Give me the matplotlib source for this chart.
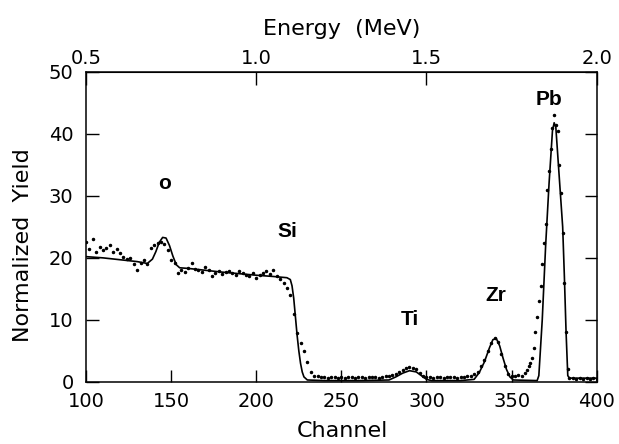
import matplotlib
matplotlib.use("Agg")
import matplotlib.pyplot as plt

# simulated spectrum (solid line)
sim_ch = [100, 110, 120, 130, 136, 139, 141, 143, 145, 147, 149, 151, 153, 155,
          160, 180, 200, 210, 218, 220, 221, 222, 223, 224, 225, 226, 227, 228,
          230, 240, 260, 278, 282, 286, 290, 294, 297, 300, 303, 320, 328, 331,
          334, 337, 339, 341, 343, 345, 347, 349, 351, 365, 366, 368, 370, 372,
          374, 375, 376, 378, 380, 381, 382, 383, 384, 400]
sim_y = [20.2, 20.0, 19.7, 19.4, 19.1, 19.8, 21.0, 22.5, 23.3, 23.2, 22.0, 20.3, 18.9, 18.4,
         18.3, 17.7, 17.2, 17.0, 16.8, 16.5, 15.5, 13.5, 10.5, 7.5, 5.0, 3.0, 1.6, 0.8,
         0.3, 0.2, 0.2, 0.3, 0.8, 1.4, 1.8, 1.6, 1.0, 0.4, 0.2, 0.2, 0.4, 1.5,
         3.2, 5.5, 6.8, 7.0, 5.8, 3.8, 2.0, 0.8, 0.3, 0.2, 1.0, 10.0, 22.0, 32.0,
         40.5, 41.8, 41.0, 33.0, 25.0, 17.0, 8.0, 1.0, 0.6, 0.6]

# measured spectrum (dots)
data_ch = [100, 102, 104, 106, 108, 110, 112, 114, 116, 118, 120, 122, 124, 126, 128,
           130, 132, 134, 136, 138, 140, 142, 144, 146, 148, 150, 152, 154, 156, 158,
           160, 162, 164, 166, 168, 170, 172, 174, 176, 178, 180, 182, 184, 186, 188,
           190, 192, 194, 196, 198, 200, 202, 204, 206, 208, 210, 212, 214, 216, 218,
           220, 222, 224, 226, 228, 230, 232, 234, 236, 238, 240, 242, 244, 246, 248,
           250, 252, 254, 256, 258, 260, 262, 264, 266, 268, 270, 272, 274, 276, 278,
           280, 282, 284, 286, 288, 290, 292, 294, 296, 298, 300, 302, 304, 306, 308,
           310, 312, 314, 316, 318, 320, 322, 324, 326, 328, 330, 332, 334, 336, 338,
           340, 342, 344, 346, 348, 350, 352, 354, 356, 358, 359, 360, 361, 362, 363,
           364, 365, 366, 367, 368, 369, 370, 371, 372, 373, 374, 375, 376, 377, 378,
           379, 380, 381, 382, 383, 384, 386, 388, 390, 392, 394, 396, 398, 400]
data_y = [22.6, 21.5, 23.0, 21.0, 21.8, 21.3, 21.6, 22.0, 21.0, 21.4, 20.8, 20.2, 19.8, 20.0, 19.0,
          18.0, 19.2, 19.7, 19.0, 21.6, 22.0, 22.4, 22.6, 22.2, 21.3, 19.7, 19.2, 17.5, 18.0, 17.7,
          18.4, 19.2, 18.2, 18.0, 17.8, 18.5, 18.0, 17.0, 17.6, 17.9, 17.4, 17.8, 17.9, 17.5, 17.2,
          17.9, 17.5, 17.3, 17.0, 17.5, 16.8, 17.2, 17.5, 17.9, 17.4, 18.0, 17.0, 16.6, 16.0, 15.2,
          14.0, 11.0, 7.9, 6.3, 5.0, 3.2, 1.6, 1.0, 0.9, 0.8, 0.8, 0.7, 0.8, 0.8, 0.7,
          0.8, 0.7, 0.8, 0.8, 0.7, 0.8, 0.8, 0.7, 0.8, 0.8, 0.8, 0.7, 0.8, 0.9, 1.0,
          1.1, 1.3, 1.6, 1.9, 2.2, 2.4, 2.3, 2.0, 1.4, 1.0, 0.8, 0.8, 0.7, 0.8, 0.8,
          0.7, 0.8, 0.8, 0.8, 0.7, 0.8, 0.8, 0.9, 1.0, 1.2, 1.6, 2.5, 3.5, 5.0, 6.2,
          7.0, 6.5, 4.5, 2.5, 1.2, 0.9, 1.0, 1.1, 1.0, 1.4, 1.9, 2.5, 3.0, 3.8, 5.5,
          8.0, 10.5, 13.0, 15.5, 19.0, 22.4, 25.5, 31.0, 34.0, 37.5, 41.0, 43.0, 41.5, 40.5, 35.0,
          30.5, 24.0, 16.0, 8.0, 2.0, 0.7, 0.6, 0.5, 0.6, 0.5, 0.6, 0.5, 0.6, 0.5]

# element labels: (text, channel, yield)
elements = ["o", "Si", "Ti", "Zr", "Pb"]
elem_ch = [146, 218, 290, 341, 372]
elem_y = [32.0, 24.3, 10.0, 14.0, 45.5]

energy_ticks = [0.5, 1.0, 1.5, 2.0]

fig = plt.figure(figsize=(6.19, 4.44), dpi=100)
ax = fig.add_axes([0.139, 0.140, 0.825, 0.698])

ax.plot(sim_ch, sim_y, color="black", lw=1.2)
ax.plot(data_ch, data_y, linestyle="none", marker="o", ms=1.5, color="black")

for name, c, y in zip(elements, elem_ch, elem_y):
    ax.text(c, y, name, fontsize=15, fontweight="bold", family="Liberation Sans",
            ha="center", va="center")

ax.set_xlim(100, 400)
ax.set_ylim(0, 50)
ax.set_xticks(range(100, 401, 50))
ax.set_yticks(range(0, 51, 10))
ax.tick_params(axis="both", direction="in", length=9, width=1, labelsize=14)
ax.tick_params(axis="x", pad=7)
ax.tick_params(axis="y", right=True, pad=9)
ax.set_xlabel("Channel", fontsize=16)
ax.set_ylabel("Normalized  Yield", fontsize=16)
ax.xaxis.set_label_coords(0.503, -0.125)
ax.yaxis.set_label_coords(-0.104, 0.44)

sec = ax.secondary_xaxis("top", functions=(lambda c: 0.5 + (c - 100) * 0.005,
                                           lambda e: 100 + (e - 0.5) / 0.005))
sec.set_xticks(energy_ticks)
sec.set_xticklabels([f"{e:.1f}" for e in energy_ticks])
sec.tick_params(direction="in", length=9, width=1, labelsize=14, pad=3)
sec.set_xlabel("Energy  (MeV)", fontsize=16, labelpad=10)

for s in ax.spines.values():
    s.set_linewidth(1.1)

fig.savefig("out.png", dpi=100)
